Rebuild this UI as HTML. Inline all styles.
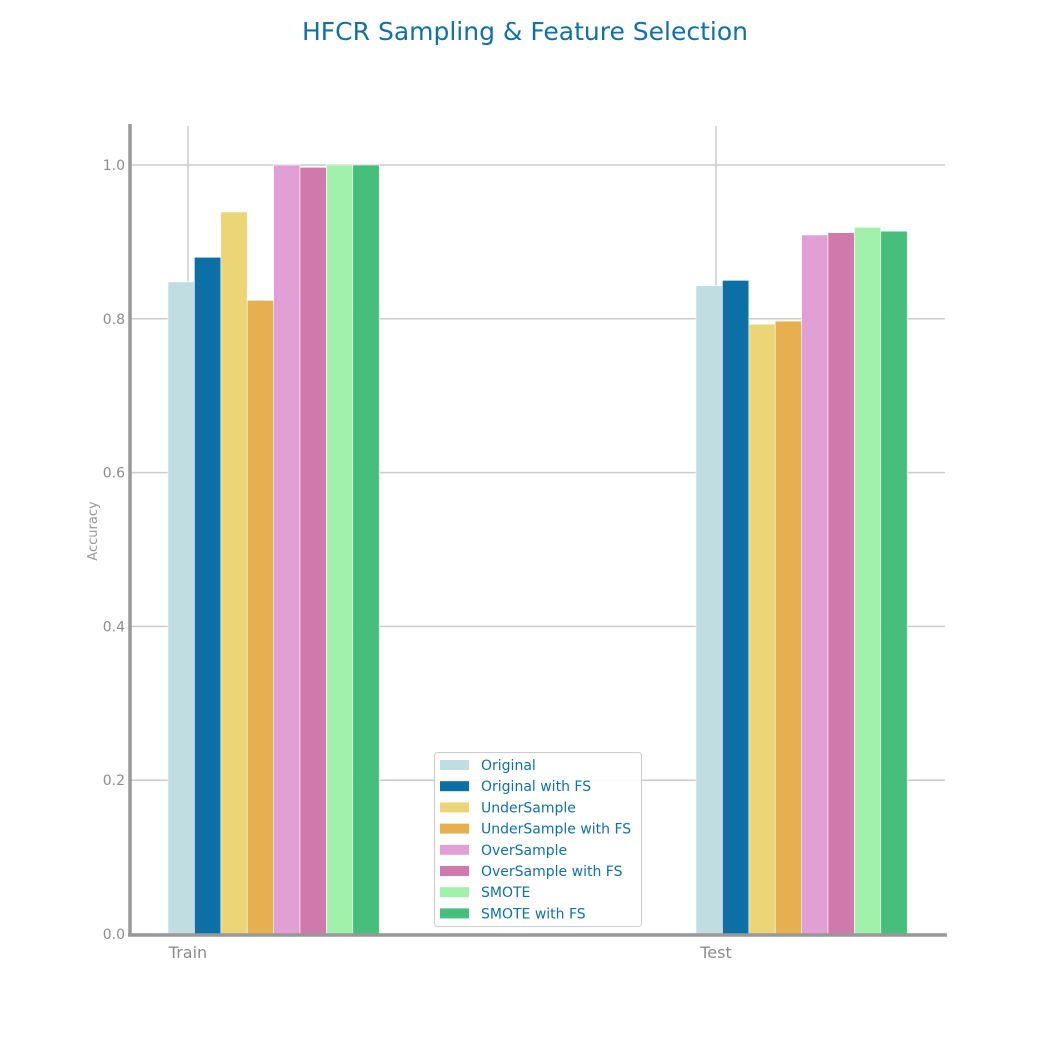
<!DOCTYPE html>
<html><head><meta charset="utf-8"><style>
body{margin:0;background:#fff}
svg text{font-family:"DejaVu Sans","Liberation Sans",sans-serif}
</style></head><body>
<svg id="c" width="1050" height="1050" xmlns="http://www.w3.org/2000/svg">
<text x="525" y="40" text-anchor="middle" font-size="25" fill="#1170a8">HFCR Sampling &amp; Feature Selection</text>
<g id="grid"></g><g id="bars"></g><g id="axes"></g><g id="legend"></g>
</svg>
<script>
const categories=["Train","Test"];
const seriesNames=["Original","Original with FS","UnderSample","UnderSample with FS","OverSample","OverSample with FS","SMOTE","SMOTE with FS"];
const trainValues=[0.848,0.880,0.939,0.824,1.0,0.997,1.0,1.0];
const testValues=[0.843,0.850,0.793,0.797,0.909,0.912,0.919,0.914];
const yTicks=[0,0.2,0.4,0.6,0.8,1.0];
const colors=["#c0dee1","#0c6fa5","#ecd577","#e8af50","#e09fd5","#d079ad","#a1f1aa","#45bf7b"];
const NS="http://www.w3.org/2000/svg";
const y0=934,yScale=769;
function yPos(v){return y0-v*yScale;}
const xTick=[188,716];
function xPos(ci){return xTick[ci];}
const bw=26.4;
function mk(t,a,p){const e=document.createElementNS(NS,t);for(const k in a)e.setAttribute(k,a[k]);p.appendChild(e);return e;}
const grid=document.getElementById('grid'),bars=document.getElementById('bars'),axes=document.getElementById('axes'),leg=document.getElementById('legend');
yTicks.forEach(t=>{
 const l=mk('line',{x1:130,x2:945,y1:yPos(t),y2:yPos(t),stroke:'#cccccc','stroke-width':1.5},grid);
 
 
 const tx=mk('text',{x:125,y:yPos(t)+5,'text-anchor':'end','font-size':14,fill:'#8c8c8c'},axes);
 tx.textContent=t.toFixed(1);
 
 
});
categories.forEach((c,ci)=>{
 const l=mk('line',{x1:xPos(ci),x2:xPos(ci),y1:126,y2:934,stroke:'#cccccc','stroke-width':1.5},grid);
 
 
 const tx=mk('text',{x:xPos(ci),y:958,'text-anchor':'middle','font-size':16,fill:'#8c8c8c'},axes);
 tx.textContent=c;
 
 
 const vals=ci===0?trainValues:testValues;
 vals.forEach((v,si)=>{
  const x=xPos(ci)-20+si*bw;
  const r=mk('rect',{x:x,y:yPos(v),width:bw,height:y0-yPos(v),fill:colors[si],stroke:'#fff','stroke-width':0.6},bars);
  
  
 });
});
let a=mk('line',{x1:130,x2:130,y1:124,y2:936,stroke:'#999','stroke-width':3.5},axes);


a=mk('line',{x1:128,x2:947,y1:935,y2:935,stroke:'#999','stroke-width':3.5},axes);


const yl=mk('text',{x:97,y:531,'text-anchor':'middle','font-size':13,fill:'#999',transform:'rotate(-90 97 531)'},axes);
yl.textContent='Accuracy';


const lb=mk('rect',{x:434.5,y:752.5,width:207,height:174,rx:3,fill:'#fff','fill-opacity':0.85,stroke:'#cccccc'},leg);


seriesNames.forEach((n,i)=>{
 const yy=765+i*21.2;
 const s=mk('rect',{x:440,y:yy-5,width:29,height:10,fill:colors[i]},leg);
 
 
 const t=mk('text',{x:481,y:yy+5,'font-size':14,fill:'#1170a8'},leg);
 t.textContent=n;
 
 
});
</script>
</body></html>
